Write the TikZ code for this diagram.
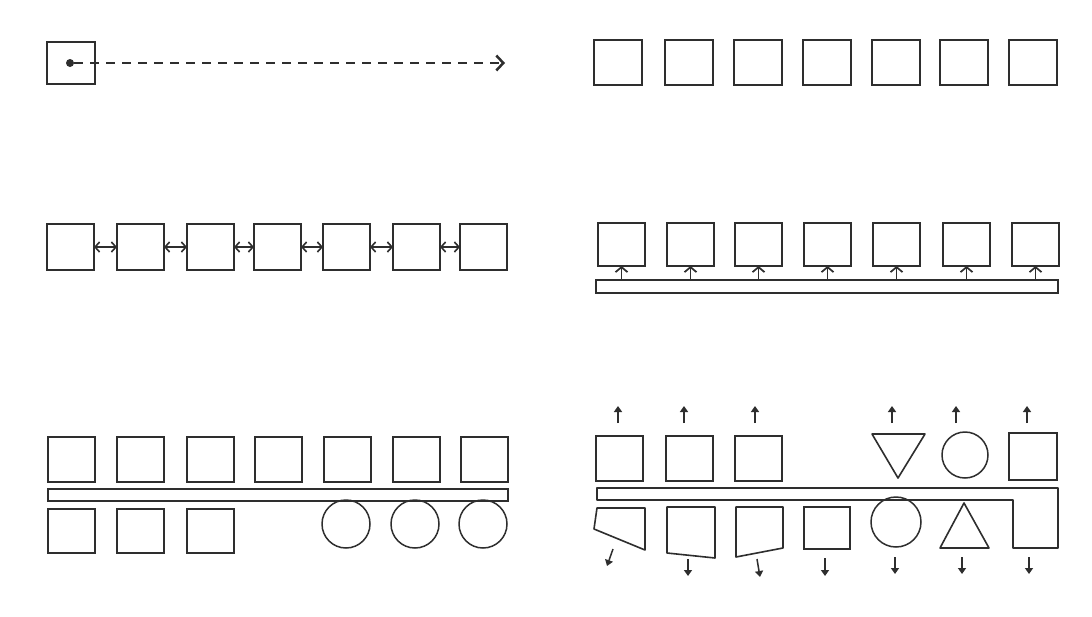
\documentclass[tikz,border=0pt]{standalone}
\usetikzlibrary{arrows.meta,shapes.geometric}
\definecolor{ink}{HTML}{2E2E2E}
\begin{document}
\begin{tikzpicture}[x=1pt,y=-1pt,
 box/.style={draw=ink, line width=2pt, inner sep=0pt, outer sep=0pt, anchor=north west, minimum width=47pt, minimum height=45pt},
 ring/.style={draw=ink, line width=1.5pt, circle, inner sep=0pt, outer sep=0pt, minimum size=48pt},
 edge/.style={draw=ink, line width=1.6pt, line join=round},
 barbox/.style={draw=ink, line width=2pt, inner sep=0pt, outer sep=0pt, anchor=north west},
 dblarrow/.style={draw=ink, line width=1.6pt, {Straight Barb[length=4.5pt,width=10pt]}-{Straight Barb[length=4.5pt,width=10pt]}},
 uparrow/.style={draw=ink, line width=1.7pt, -{Straight Barb[length=5pt,width=12pt]}},
 movearrow/.style={draw=ink, line width=1.5pt, -{Triangle[length=6pt,width=8pt]}},
 dasharrow/.style={draw=ink, line width=2pt, dash pattern=on 9pt off 7pt, -{Straight Barb[length=7pt,width=15pt,line width=2.5pt]}},
 dot/.style={circle, fill=ink, inner sep=0pt, minimum size=8pt}
]
\useasboundingbox (0,0) rectangle (1092,616);
\fill[white] (0,0) rectangle (1092,616);

% panel 1
\node[box, minimum width=48pt, minimum height=42pt] (a1) at (47,42) {};
\node[dot] (adot) at (70,63) {};
\coordinate (aend) at (505,63);
\draw[dasharrow] (adot) -- (aend);

% panel 2
\foreach \x [count=\i] in {594,665,734,803,872,940,1009}
  \node[box, minimum width=48pt] (b\i) at (\x,40) {};

% panel 3
\foreach \x [count=\i] in {47,117,187,254,323,393,460}
  \node[box, minimum height=46pt] (c\i) at (\x,224) {};
\foreach \i [evaluate=\i as \j using int(\i+1)] in {1,...,6}
  \draw[dblarrow] (c\i.east) -- (c\j.west);

% panel 4
\foreach \x [count=\i] in {598,667,735,804,873,943,1012}
  \node[box, minimum height=43pt] (d\i) at (\x,223) {};
\node[barbox, minimum width=462pt, minimum height=13pt] (dbar) at (596,280) {};
\foreach \i in {1,...,7}
  \draw[uparrow] (d\i.south |- dbar.north) -- (d\i.south);

% panel 5
\foreach \x [count=\i] in {48,117,187,255,324,393,461}
  \node[box] (e\i) at (\x,437) {};
\node[barbox, minimum width=460pt, minimum height=12pt] (ebar) at (48,489) {};
\foreach \x [count=\i] in {48,117,187}
  \node[box, minimum height=44pt] (f\i) at (\x,509) {};
\foreach \x [count=\i] in {346,415,483}
  \node[ring] (g\i) at (\x,524) {};

% panel 6 top
\foreach \x [count=\i] in {596,666,735}
  \node[box] (h\i) at (\x,436) {};
\coordinate (t1a) at (872,434);
\coordinate (t1b) at (925,434);
\coordinate (t1c) at (898,478);
\draw[edge] (t1a) -- (t1b) -- (t1c) -- cycle;
\node[ring, minimum size=46pt] (hc) at (965,455) {};
\node[box, minimum width=48pt, minimum height=47pt] (hs) at (1009,433) {};
\foreach \x [count=\i] in {618,684,755,892,956,1027} {
  \coordinate (us\i) at (\x,423);
  \coordinate (ue\i) at (\x,406);
  \draw[movearrow] (us\i) -- (ue\i);
}

% panel 6 bar merged with right block
\draw[draw=ink, line width=2pt, line join=round]
  (1013,500) -- (597,500) -- (597,488) -- (1058,488) -- (1058,548) -- (1013,548) -- cycle;

% panel 6 bottom shapes
\draw[edge] (597,508) -- (645,508) -- (645,550) -- (594,529) -- cycle;
\draw[edge] (667,507) -- (715,507) -- (715,558) -- (667,553) -- cycle;
\draw[edge] (736,507) -- (783,507) -- (783,548) -- (736,557) -- cycle;
\node[box, line width=1.7pt, minimum width=46pt, minimum height=42pt] (k4) at (804,507) {};
\node[ring, minimum size=50pt] (k5) at (896,522) {};
\coordinate (t2a) at (964,503);
\coordinate (t2b) at (989,548);
\coordinate (t2c) at (940,548);
\draw[edge] (t2a) -- (t2b) -- (t2c) -- cycle;

\coordinate (ds1) at (613,549); \coordinate (de1) at (607,566);
\coordinate (ds2) at (688,559); \coordinate (de2) at (688,576);
\coordinate (ds3) at (757,559); \coordinate (de3) at (760,577);
\coordinate (ds4) at (825,558); \coordinate (de4) at (825,576);
\coordinate (ds5) at (895,557); \coordinate (de5) at (895,574);
\coordinate (ds6) at (962,557); \coordinate (de6) at (962,574);
\coordinate (ds7) at (1029,557); \coordinate (de7) at (1029,574);
\foreach \i in {1,...,7}
  \draw[movearrow] (ds\i) -- (de\i);
\end{tikzpicture}
\end{document}
